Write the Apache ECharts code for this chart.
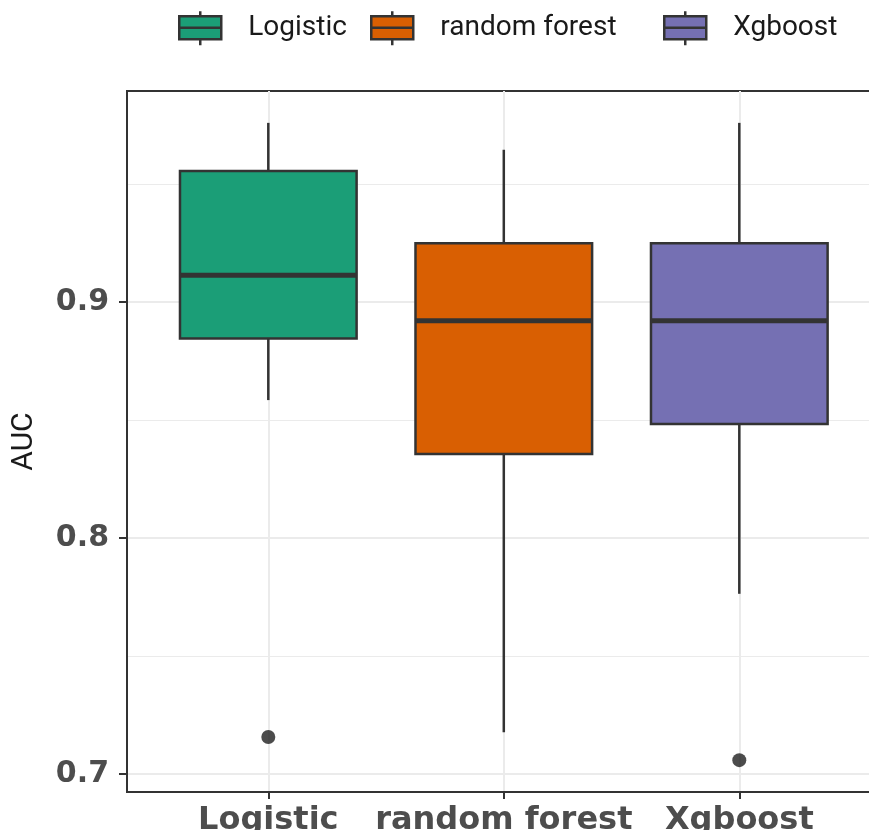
<!DOCTYPE html>
<html>
<head>
<meta charset="utf-8">
<title>AUC by model</title>
<script src="https://cdn.jsdelivr.net/npm/echarts@6/dist/echarts.min.js"></script>
<style>
  html, body { margin: 0; padding: 0; background: #ffffff; }
  #chart { width: 869px; height: 830px; }
</style>
</head>
<body>
<div id="chart"></div>
<script>
// Model names, in axis order
const categories = ['Logistic', 'random forest', 'Xgboost'];

// Five-number summaries of AUC per model
const lowerWhisker = [0.8585, 0.7177, 0.7764];
const q1Values     = [0.8846, 0.8357, 0.8484];
const medianValues = [0.9114, 0.8921, 0.8921];
const q3Values     = [0.9556, 0.9250, 0.9250];
const upperWhisker = [0.9760, 0.9646, 0.9760];

// Outlying AUC values: [model index, value]
const outliers = [[0, 0.7157], [2, 0.7059]];

// Y axis tick marks
const yMajorTicks = [0.7, 0.8, 0.9];
const yMinorTicks = [0.75, 0.85, 0.95];

// Dark2 fills
const fillColors = ['#1B9E77', '#D95F02', '#7570B3'];

const INK = '#333333';
const GRID = '#ebebeb';
const BOX_WIDTH = 0.75;

// y range: data extent padded by 5% each side
const allValues = lowerWhisker.concat(upperWhisker, outliers.map(o => o[1]));
const dMin = Math.min.apply(null, allValues);
const dMax = Math.max.apply(null, allValues);
const pad = (dMax - dMin) * 0.05;
const yMin = dMin - pad;
const yMax = dMax + pad;

const xPositions = categories.map((_, i) => i + 1);

function renderBox(params, api) {
  const x = api.value(0);
  const lo = api.coord([x, api.value(1)]);
  const q1 = api.coord([x, api.value(2)]);
  const md = api.coord([x, api.value(3)]);
  const q3 = api.coord([x, api.value(4)]);
  const hi = api.coord([x, api.value(5)]);
  const half = api.size([BOX_WIDTH, 0])[0] / 2;
  const fill = api.visual('color');
  return {
    type: 'group',
    children: [
      { type: 'line', shape: { x1: lo[0], y1: lo[1], x2: q1[0], y2: q1[1] },
        style: { stroke: INK, lineWidth: 2.5 } },
      { type: 'line', shape: { x1: q3[0], y1: q3[1], x2: hi[0], y2: hi[1] },
        style: { stroke: INK, lineWidth: 2.5 } },
      { type: 'rect', shape: { x: q3[0] - half, y: q3[1], width: half * 2, height: q1[1] - q3[1] },
        style: { fill: fill, stroke: INK, lineWidth: 2.5 } },
      { type: 'line', shape: { x1: md[0] - half, y1: md[1], x2: md[0] + half, y2: md[1] },
        style: { stroke: INK, lineWidth: 5 } }
    ]
  };
}

const boxSeries = categories.map((name, i) => ({
  name: name,
  type: 'custom',
  renderItem: renderBox,
  itemStyle: { color: fillColors[i] },
  encode: { x: 0, y: [1, 2, 3, 4, 5] },
  data: [[xPositions[i], lowerWhisker[i], q1Values[i], medianValues[i], q3Values[i], upperWhisker[i]]],
  z: 3
}));

// Legend key: box with median line and whisker stubs
const keyIcon = 'path://M1,5 L43,5 L43,28 L1,28 Z M1,16.5 L43,16.5 M22,0 L22,5 M22,28 L22,34';
const legendLefts = [178, 370, 663];
const legends = categories.map((name, i) => ({
  data: [{
    name: name,
    icon: keyIcon,
    itemStyle: { color: fillColors[i], borderColor: INK, borderWidth: 2.5 }
  }],
  left: legendLefts[i],
  top: 10,
  padding: 0,
  itemWidth: 44,
  itemHeight: 34,
  selectedMode: false,
  textStyle: {
    fontFamily: 'Roboto',
    fontSize: 28,
    color: '#1a1a1a',
    padding: [0, 0, 0, 21]
  }
}));

const chart = echarts.init(document.getElementById('chart'), null, { renderer: 'canvas' });

chart.setOption({
  animation: false,
  backgroundColor: '#ffffff',
  legend: legends,
  grid: {
    left: 127,
    right: -11.6,
    top: 91,
    bottom: 38,
    containLabel: false,
    outerBoundsMode: 'none',
    show: true,
    borderColor: INK,
    borderWidth: 2,
    backgroundColor: 'transparent'
  },
  xAxis: {
    type: 'value',
    min: 0.4,
    max: 3.6,
    axisLine: { show: true, onZero: false, lineStyle: { color: INK, width: 2 } },
    axisTick: { show: true, length: 7, customValues: xPositions, lineStyle: { color: INK, width: 2 } },
    axisLabel: {
      customValues: xPositions,
      formatter: v => categories[Math.round(v) - 1] || '',
      fontFamily: 'DejaVu Sans',
      fontWeight: 'bold',
      fontSize: 32,
      color: '#4d4d4d',
      margin: 13
    },
    splitLine: { show: true, lineStyle: { color: GRID, width: 2 } }
  },
  yAxis: [
    {
      type: 'value',
      min: yMin,
      max: yMax,
      name: 'AUC',
      nameLocation: 'middle',
      nameGap: 88,
      nameTextStyle: { fontFamily: 'Roboto', fontSize: 30, color: '#1a1a1a' },
      axisLine: { show: true, lineStyle: { color: INK, width: 2 } },
      axisTick: { show: true, length: 8, customValues: yMajorTicks, lineStyle: { color: INK, width: 2 } },
      axisLabel: {
        customValues: yMajorTicks,
        formatter: v => v.toFixed(1),
        fontFamily: 'DejaVu Sans',
        fontWeight: 'bold',
        fontSize: 30,
        color: '#4d4d4d',
        margin: 18
      },
      splitLine: { show: true, lineStyle: { color: GRID, width: 2 } }
    },
    {
      type: 'value',
      min: yMin,
      max: yMax,
      position: 'left',
      axisLine: { show: false },
      axisTick: { show: false, customValues: yMinorTicks },
      axisLabel: { show: false },
      splitLine: { show: true, lineStyle: { color: GRID, width: 1.2 } }
    }
  ],
  series: boxSeries.concat([{
    name: 'outliers',
    type: 'scatter',
    data: outliers.map(o => [xPositions[o[0]], o[1]]),
    symbol: 'circle',
    symbolSize: 14,
    itemStyle: { color: '#1f1f1f' },
    z: 4
  }])
});
</script>
</body>
</html>
